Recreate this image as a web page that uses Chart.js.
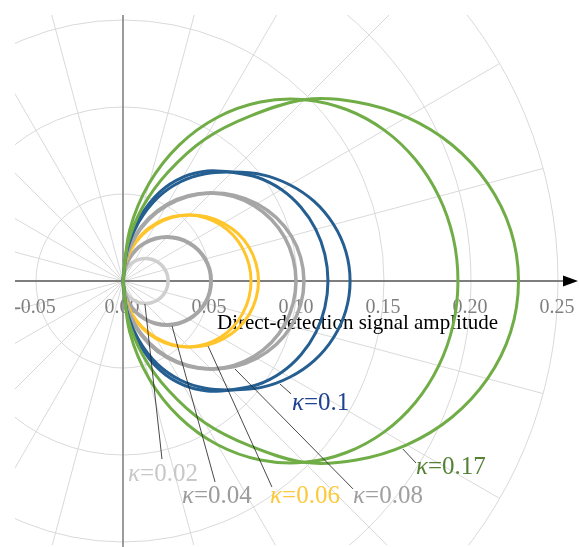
<!DOCTYPE html>
<html>
<head>
<meta charset="utf-8">
<title>Direct-detection signal amplitude</title>
<script src="https://cdn.jsdelivr.net/npm/chart.js@4.4.1/dist/chart.umd.min.js"></script>
<style>
  html, body { margin: 0; padding: 0; background: #ffffff; }
  canvas { display: block; }
</style>
</head>
<body>
<canvas id="chart" width="579" height="547"></canvas>
<script>
// Polar sample angles (degrees), from the top of each loop round to the bottom
const angleDeg = [90, 82.5, 75, 67.5, 60, 52.5, 45, 37.5, 30, 22.5, 15, 7.5, 0,
                  -7.5, -15, -22.5, -30, -37.5, -45, -52.5, -60, -67.5, -75, -82.5, -90];

// Signal amplitude (radius) at each angle, one or two loops per coupling value
const k002  = [0, 0.0034, 0.0067, 0.0099, 0.0130, 0.0158, 0.0183, 0.0205, 0.0224, 0.0239, 0.0250, 0.0257, 0.0259,
               0.0257, 0.0250, 0.0239, 0.0224, 0.0205, 0.0183, 0.0158, 0.0130, 0.0099, 0.0067, 0.0034, 0];
const k004  = [0, 0.0066, 0.0131, 0.0194, 0.0253, 0.0308, 0.0358, 0.0401, 0.0438, 0.0467, 0.0489, 0.0502, 0.0506,
               0.0502, 0.0489, 0.0467, 0.0438, 0.0401, 0.0358, 0.0308, 0.0253, 0.0194, 0.0131, 0.0066, 0];
const k006a = [0, 0.0102, 0.0202, 0.0297, 0.0385, 0.0465, 0.0536, 0.0597, 0.0647, 0.0686, 0.0713, 0.0730, 0.0736,
               0.0730, 0.0713, 0.0686, 0.0647, 0.0597, 0.0536, 0.0465, 0.0385, 0.0297, 0.0202, 0.0102, 0];
const k006b = [0, 0.0097, 0.0192, 0.0285, 0.0374, 0.0459, 0.0536, 0.0606, 0.0665, 0.0714, 0.0750, 0.0771, 0.0779,
               0.0771, 0.0750, 0.0714, 0.0665, 0.0606, 0.0536, 0.0459, 0.0374, 0.0285, 0.0192, 0.0097, 0];
const k008a = [0, 0.0134, 0.0266, 0.0392, 0.0510, 0.0618, 0.0715, 0.0799, 0.0868, 0.0923, 0.0963, 0.0986, 0.0994,
               0.0986, 0.0963, 0.0923, 0.0868, 0.0799, 0.0715, 0.0618, 0.0510, 0.0392, 0.0266, 0.0134, 0];
const k008b = [0, 0.0128, 0.0255, 0.0379, 0.0499, 0.0611, 0.0715, 0.0808, 0.0888, 0.0953, 0.1001, 0.1030, 0.1040,
               0.1030, 0.1001, 0.0953, 0.0888, 0.0808, 0.0715, 0.0611, 0.0499, 0.0379, 0.0255, 0.0128, 0];
const k010a = [0, 0.0194, 0.0383, 0.0555, 0.0690, 0.0797, 0.0884, 0.0977, 0.1051, 0.1107, 0.1147, 0.1170, 0.1178,
               0.1170, 0.1147, 0.1107, 0.1051, 0.0977, 0.0884, 0.0797, 0.0690, 0.0555, 0.0383, 0.0194, 0];
const k010b = [0, 0.0176, 0.0351, 0.0517, 0.0657, 0.0777, 0.0885, 0.1004, 0.1106, 0.1191, 0.1253, 0.1292, 0.1305,
               0.1292, 0.1253, 0.1191, 0.1106, 0.1004, 0.0885, 0.0777, 0.0657, 0.0517, 0.0351, 0.0176, 0];
const k017a = [0, 0.0296, 0.0581, 0.0847, 0.1087, 0.1297, 0.1474, 0.1619, 0.1734, 0.1820, 0.1879, 0.1914, 0.1925,
               0.1914, 0.1879, 0.1820, 0.1734, 0.1619, 0.1474, 0.1297, 0.1087, 0.0847, 0.0581, 0.0296, 0];
const k017b = [0, 0.0219, 0.0443, 0.0678, 0.0941, 0.1193, 0.1474, 0.1690, 0.1883, 0.2046, 0.2169, 0.2247, 0.2273,
               0.2247, 0.2169, 0.2046, 0.1883, 0.1690, 0.1474, 0.1193, 0.0941, 0.0678, 0.0443, 0.0219, 0];

// Coupling values named in the labels
const kappaValues = [0.02, 0.04, 0.06, 0.08, 0.1, 0.17];

// Axis tick labels and polar grid
const xTickValues = [-0.05, 0.00, 0.05, 0.10, 0.15, 0.20, 0.25];
const ringRadii = [0.05, 0.10, 0.15, 0.20, 0.25];
const spokeStepDeg = 15;
const axisTitle = 'Direct-detection signal amplitude';

// ---- styling and placement ----
const SERIF = '"Liberation Serif", "Times New Roman", Times, serif';
const C = {
  k002: '#cfcfcf', k004: '#a6a6a6', k006: '#ffc52b', k008: '#a6a6a6',
  k010: '#255e91', k017: '#70ad47'
};
const curves = [
  { r: k017b, color: C.k017, width: 3 },
  { r: k017a, color: C.k017, width: 3 },
  { r: k010b, color: C.k010, width: 3 },
  { r: k010a, color: C.k010, width: 3 },
  { r: k008b, color: C.k008, width: 3.5 },
  { r: k008a, color: C.k008, width: 3.5 },
  { r: k006b, color: C.k006, width: 3 },
  { r: k006a, color: C.k006, width: 3 },
  { r: k004,  color: C.k004, width: 4 },
  { r: k002,  color: C.k002, width: 3.5 }
];

// label baseline-left positions and leader lines (data coordinates)
const labelStyle = [
  { color: '#c8c8c8', at: [0.0029, -0.1149], leader: [[0.0126, -0.0132], [0.0224, -0.1023]] },
  { color: '#9c9c9c', at: [0.0339, -0.1276], leader: [[0.0282, -0.0259], [0.0529, -0.1155]] },
  { color: '#fcc93a', at: [0.0845, -0.1276], leader: [[0.0489, -0.0374], [0.0856, -0.1184]] },
  { color: '#a0a0a0', at: [0.1322, -0.1276], leader: [[0.0644, -0.0506], [0.1322, -0.1195]] },
  { color: '#1d4193', at: [0.0971, -0.0741], leader: [[0.0902, -0.0592], [0.0966, -0.0649]] },
  { color: '#548235', at: [0.1684, -0.1109], leader: [[0.1609, -0.0966], [0.1684, -0.1046]] }
];

function toXY(radii) {
  return radii.map((r, i) => {
    const t = angleDeg[i] * Math.PI / 180;
    return { x: r * Math.cos(t), y: r * Math.sin(t) };
  });
}

const polarOverlay = {
  id: 'polarOverlay',
  beforeDatasetsDraw(chart) {
    const { ctx, chartArea: a, scales: { x, y } } = chart;
    const ox = x.getPixelForValue(0), oy = y.getPixelForValue(0);
    const unit = x.getPixelForValue(1) - ox;

    ctx.save();
    ctx.beginPath();
    ctx.rect(a.left, a.top, a.right - a.left, a.bottom - a.top);
    ctx.clip();
    ctx.strokeStyle = '#d9d9d9';
    ctx.lineWidth = 1;
    ringRadii.forEach(r => {
      ctx.beginPath();
      ctx.arc(ox, oy, r * unit, 0, Math.PI * 2);
      ctx.stroke();
    });
    const rMax = ringRadii[ringRadii.length - 1] * unit;
    for (let d = 0; d < 360; d += spokeStepDeg) {
      const t = d * Math.PI / 180;
      ctx.beginPath();
      ctx.moveTo(ox, oy);
      ctx.lineTo(ox + rMax * Math.cos(t), oy - rMax * Math.sin(t));
      ctx.stroke();
    }
    ctx.restore();

    // axes
    ctx.save();
    ctx.strokeStyle = '#808080';
    ctx.lineWidth = 1.5;
    ctx.beginPath();
    ctx.moveTo(ox, a.top);
    ctx.lineTo(ox, chart.height);
    ctx.stroke();

    const tipX = chart.width - 1;
    ctx.strokeStyle = '#5a5a5a';
    ctx.beginPath();
    ctx.moveTo(a.left, oy);
    ctx.lineTo(tipX - 10, oy);
    ctx.stroke();
    ctx.fillStyle = '#000000';
    ctx.beginPath();
    ctx.moveTo(tipX, oy);
    ctx.lineTo(tipX - 15, oy - 5.5);
    ctx.lineTo(tipX - 15, oy + 5.5);
    ctx.closePath();
    ctx.fill();

    // tick labels
    ctx.font = '20px ' + SERIF;
    ctx.fillStyle = '#7f7f7f';
    ctx.textAlign = 'center';
    ctx.textBaseline = 'alphabetic';
    xTickValues.forEach(v => {
      ctx.fillText(v.toFixed(2), x.getPixelForValue(v) - 1, oy + 32);
    });

    // axis title
    ctx.fillStyle = '#000000';
    ctx.font = '21px ' + SERIF;
    ctx.textAlign = 'left';
    ctx.fillText(axisTitle, x.getPixelForValue(0.0540), oy + 48);
    ctx.restore();
  },
  afterDatasetsDraw(chart) {
    const { ctx, scales: { x, y } } = chart;
    ctx.save();
    // leader lines
    ctx.strokeStyle = '#1a1a1a';
    ctx.lineWidth = 0.8;
    labelStyle.forEach(s => {
      const [p, q] = s.leader;
      ctx.beginPath();
      ctx.moveTo(x.getPixelForValue(p[0]), y.getPixelForValue(p[1]));
      ctx.lineTo(x.getPixelForValue(q[0]), y.getPixelForValue(q[1]));
      ctx.stroke();
    });
    // kappa labels
    ctx.textBaseline = 'alphabetic';
    ctx.textAlign = 'left';
    kappaValues.forEach((k, i) => {
      const s = labelStyle[i];
      let px = x.getPixelForValue(s.at[0]);
      const py = y.getPixelForValue(s.at[1]);
      ctx.fillStyle = s.color;
      ctx.font = 'italic 25px ' + SERIF;
      ctx.fillText('κ', px, py);
      px += ctx.measureText('κ').width;
      ctx.font = '25px ' + SERIF;
      ctx.fillText('=' + String(k), px, py);
    });
    ctx.restore();
  }
};

new Chart(document.getElementById('chart'), {
  type: 'scatter',
  data: {
    datasets: curves.map(c => ({
      data: toXY(c.r),
      showLine: true,
      borderColor: c.color,
      backgroundColor: c.color,
      borderWidth: c.width,
      pointRadius: 0,
      tension: 0.34,
      fill: false
    }))
  },
  options: {
    responsive: false,
    devicePixelRatio: 1,
    animation: false,
    layout: { padding: { left: 15, right: 14, top: 15, bottom: 2 } },
    plugins: { legend: { display: false }, tooltip: { enabled: false } },
    scales: {
      x: { type: 'linear', display: false, min: -0.062069, max: 0.254021 },
      y: { type: 'linear', display: false, min: -0.151724, max: 0.152874 }
    }
  },
  plugins: [polarOverlay]
});
</script>
</body>
</html>
